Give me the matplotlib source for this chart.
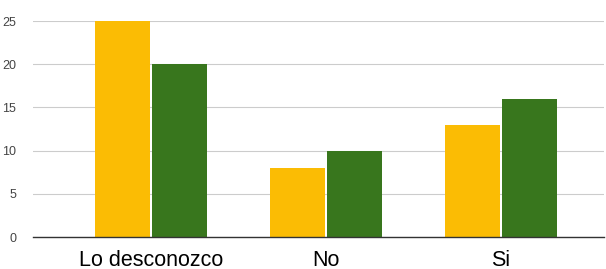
import matplotlib
matplotlib.use("Agg")
import matplotlib.pyplot as plt
import numpy as np

categories = ["Lo desconozco", "No", "Si"]
series_a = [25, 8, 13]
series_b = [20, 10, 16]
yticks = [0, 5, 10, 15, 20, 25]

plt.rcParams['font.family'] = ['Liberation Sans', 'DejaVu Sans']
fig = plt.figure(figsize=(6.06, 2.69), dpi=100)
ax = fig.add_axes([33/606, 32/269, (604-33)/606, (237-21)/269])

x = np.arange(len(categories))
w = 0.314
ax.bar(x - w/2 - 0.006, series_a, width=w, color="#FBBC04", zorder=3)
ax.bar(x + w/2 + 0.006, series_b, width=w, color="#38761D", zorder=3)

ax.set_xlim(-0.674, 2.589)
ax.set_ylim(0, 25)
ax.set_yticks(yticks)
ax.set_yticklabels([str(t) for t in yticks], fontsize=9, color="#444444")
ax.set_xticks(x)
ax.set_xticklabels(categories, fontsize=15.5, color="#000000")
ax.tick_params(axis='both', length=0)
ax.tick_params(axis='y', pad=12)
ax.tick_params(axis='x', pad=9)
ax.grid(axis='y', color="#cccccc", linewidth=0.8, zorder=0)
for s in ['top', 'right', 'left']:
    ax.spines[s].set_visible(False)
ax.spines['bottom'].set_color("#333333")
ax.spines['bottom'].set_linewidth(1.0)
ax.spines['bottom'].set_zorder(4)

fig.savefig("out.png", dpi=100)
